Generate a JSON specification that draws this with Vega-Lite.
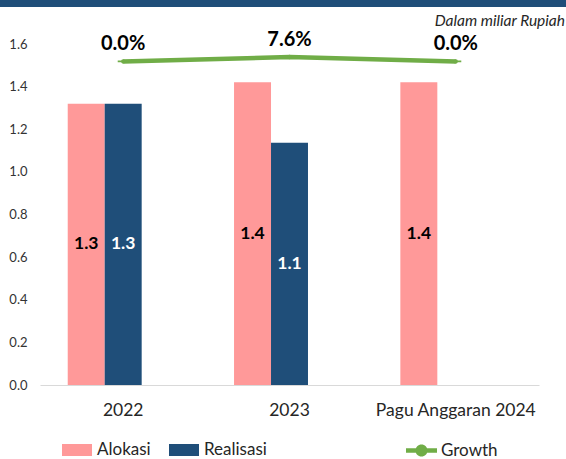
{
  "$schema": "https://vega.github.io/schema/vega-lite/v6.json",
  "autosize": {"type": "none"},
  "width": 499,
  "height": 341,
  "padding": {"left": 40, "top": 44, "right": 27, "bottom": 74},
  "background": "white",
  "config": {"font": "Lato", "view": {"stroke": null}},
  "title": {
    "text": "Dalam miliar Rupiah",
    "anchor": "end",
    "frame": "group",
    "fontSize": 15.5,
    "fontStyle": "italic",
    "fontWeight": "normal",
    "color": "#262626",
    "offset": 16,
    "dx": 26,
    "dy": 45
  },
  "datasets": {
    "anggaran": [
      {"kategori": "2022", "seri": "Alokasi", "nilai": 1.32},
      {"kategori": "2022", "seri": "Realisasi", "nilai": 1.32},
      {"kategori": "2023", "seri": "Alokasi", "nilai": 1.42},
      {"kategori": "2023", "seri": "Realisasi", "nilai": 1.137},
      {"kategori": "Pagu Anggaran 2024", "seri": "Alokasi", "nilai": 1.42}
    ],
    "pertumbuhan": [
      {"kategori": "2022", "growth": 0.0},
      {"kategori": "2023", "growth": 0.076},
      {"kategori": "Pagu Anggaran 2024", "growth": 0.0}
    ],
    "header": [{"bagian": "header"}]
  },
  "layer": [
    {
      "data": {"name": "header"},
      "mark": {"type": "rect", "color": "#1F4E79"},
      "encoding": {
        "x": {"value": -40},
        "x2": {"value": 526},
        "y": {"value": -44},
        "y2": {"value": -37}
      }
    },
    {
      "data": {"name": "anggaran"},
      "mark": {"type": "bar"},
      "encoding": {
        "x": {
          "field": "kategori",
          "type": "nominal",
          "sort": null,
          "scale": {"domain": ["2022", "2023", "Pagu Anggaran 2024"], "paddingInner": 0.333, "paddingOuter": 0.1667},
          "axis": {
            "title": null,
            "labelAngle": 0,
            "labelFontSize": 17.5,
            "labelColor": "#262626",
            "labelPadding": 16,
            "ticks": false,
            "domainColor": "#d9d9d9",
            "domainWidth": 1,
            "grid": false
          }
        },
        "xOffset": {
          "field": "seri",
          "type": "nominal",
          "scale": {"domain": ["Alokasi", "Realisasi", "_"], "paddingInner": 0, "paddingOuter": 0}
        },
        "y": {
          "field": "nilai",
          "type": "quantitative",
          "scale": {"domain": [0, 1.6], "nice": false},
          "axis": {
            "title": null,
            "values": [0, 0.2, 0.4, 0.6, 0.8, 1.0, 1.2, 1.4, 1.6],
            "format": ".1f",
            "grid": false,
            "domain": false,
            "ticks": false,
            "labelFontSize": 13,
            "labelColor": "#333333",
            "labelPadding": 13
          }
        },
        "color": {
          "field": "seri",
          "type": "nominal",
          "scale": {"domain": ["Alokasi", "Realisasi"], "range": ["#FF9999", "#1F4E79"]},
          "legend": {
            "title": null,
            "orient": "none",
            "direction": "horizontal",
            "legendX": 22,
            "legendY": 391,
            "symbolType": "M-1,-0.4H1V0.4H-1Z",
            "symbolSize": 900,
            "symbolStrokeWidth": 0,
            "labelFontSize": 17,
            "labelColor": "#262626",
            "labelOffset": 5,
            "columnPadding": 18
          }
        }
      }
    },
    {
      "data": {"name": "anggaran"},
      "mark": {"type": "text", "fontSize": 17.5, "fontWeight": "bold", "baseline": "middle", "align": "center"},
      "encoding": {
        "x": {"field": "kategori", "type": "nominal", "sort": null},
        "xOffset": {"field": "seri", "type": "nominal", "scale": {"domain": ["Alokasi", "Realisasi", "_"]}},
        "y": {
          "field": "nilai",
          "type": "quantitative",
          "scale": {"domain": [0, 3.2], "nice": false},
          "axis": null
        },
        "text": {"field": "nilai", "type": "quantitative", "format": ".1f"},
        "color": {"condition": {"test": "datum.seri === 'Realisasi'", "value": "white"}, "value": "black"}
      }
    },
    {
      "data": {"name": "pertumbuhan"},
      "mark": {"type": "line", "color": "#70AD47", "strokeWidth": 4.5},
      "encoding": {
        "x": {"field": "kategori", "type": "nominal", "sort": null},
        "y": {"field": "growth", "type": "quantitative", "scale": {"domain": [-5.58, 0.3], "nice": false, "zero": false}, "axis": null}
      }
    },
    {
      "data": {"name": "pertumbuhan"},
      "mark": {"type": "point", "filled": true, "color": "#70AD47", "opacity": 1, "size": 120},
      "encoding": {
        "x": {"field": "kategori", "type": "nominal", "sort": null},
        "y": {"field": "growth", "type": "quantitative", "scale": {"domain": [-5.58, 0.3], "nice": false, "zero": false}, "axis": null},
        "shape": {
          "datum": "Growth",
          "scale": {"range": ["M-1,-0.15H1V0.15H-1Z M0.39,0A0.39,0.39,0,1,1,-0.39,0A0.39,0.39,0,1,1,0.39,0Z"]},
          "legend": {
            "title": null,
            "orient": "none",
            "legendX": 366,
            "legendY": 391,
            "symbolSize": 961,
            "symbolFillColor": "#70AD47",
            "symbolStrokeWidth": 0,
            "labelFontSize": 17,
            "labelColor": "#262626",
            "labelOffset": 4,
            "encode": {"symbols": {"update": {"size": {"value": 961}, "fill": {"value": "#70AD47"}, "opacity": {"value": 1}}}}
          }
        }
      }
    },
    {
      "data": {"name": "pertumbuhan"},
      "mark": {"type": "text", "fontSize": 20, "fontWeight": "bold", "baseline": "middle", "align": "center", "dy": -17, "color": "black"},
      "encoding": {
        "x": {"field": "kategori", "type": "nominal", "sort": null},
        "y": {"field": "growth", "type": "quantitative", "scale": {"domain": [-5.58, 0.3], "nice": false, "zero": false}, "axis": null},
        "text": {"field": "growth", "type": "quantitative", "format": ".1%"}
      }
    }
  ],
  "resolve": {"scale": {"y": "independent"}}
}
